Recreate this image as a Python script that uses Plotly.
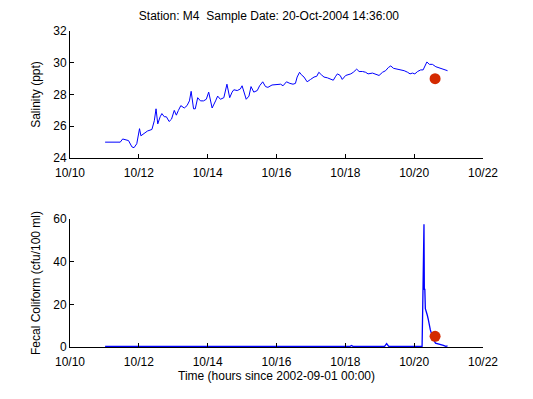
import pandas as pd
import plotly.graph_objects as go
from plotly.subplots import make_subplots

# Day-of-October (decimal) and salinity (ppt)
sal_day = [11.02, 11.46, 11.53, 11.65, 11.70, 11.80, 11.86, 11.94, 12.02, 12.06, 12.18, 12.25,
           12.38, 12.45, 12.50, 12.55, 12.62, 12.67, 12.74, 12.80, 12.88, 12.95, 13.03, 13.09,
           13.15, 13.22, 13.32, 13.40, 13.47, 13.52, 13.59, 13.64, 13.71, 13.79, 13.88, 13.96,
           14.03, 14.13, 14.23, 14.29, 14.37, 14.47, 14.56, 14.64, 14.71, 14.76, 14.86, 14.95,
           15.00, 15.05, 15.12, 15.20, 15.26, 15.34, 15.44, 15.51, 15.60, 15.68, 15.75, 15.87,
           16.02, 16.12, 16.19, 16.29, 16.39, 16.48, 16.55, 16.60, 16.67, 16.72, 16.80, 16.89,
           16.99, 17.09, 17.17, 17.23, 17.30, 17.38, 17.48, 17.57, 17.65, 17.72, 17.77, 17.85,
           17.91, 18.01, 18.16, 18.23, 18.33, 18.40, 18.50, 18.59, 18.66, 18.79, 18.88, 18.98,
           19.08, 19.17, 19.25, 19.32, 19.40, 19.51, 19.61, 19.71, 19.81, 19.88, 19.95, 20.02,
           20.10, 20.19, 20.26, 20.32, 20.37, 20.44, 20.53, 20.63, 20.78, 20.97]
sal_val = [25.0, 25.0, 25.2, 25.15, 25.1, 24.7, 24.65, 24.9, 25.85, 25.4, 25.6, 25.7,
           25.8, 26.35, 27.1, 26.15, 26.6, 26.8, 26.6, 26.6, 26.3, 26.45, 27.0, 26.7,
           27.0, 27.3, 27.15, 27.3, 27.6, 28.2, 27.1, 27.1, 27.8, 27.6, 27.6, 27.7,
           28.15, 27.15, 27.6, 27.9, 27.7, 27.8, 28.65, 27.8, 28.15, 28.3, 28.25, 28.35,
           28.55, 28.25, 27.7, 27.9, 28.5, 28.15, 28.25, 28.55, 28.8, 28.5, 28.45, 28.6,
           28.65, 28.65, 28.55, 28.8, 28.7, 28.65, 28.7, 29.1, 29.4, 29.25, 29.1, 28.8,
           28.95, 29.1, 29.15, 29.4, 29.25, 29.1, 29.05, 28.95, 28.9, 29.15, 29.3, 29.2,
           28.95, 29.2, 29.3, 29.4, 29.6, 29.45, 29.45, 29.4, 29.3, 29.35, 29.3, 29.2,
           29.4, 29.5, 29.7, 29.8, 29.65, 29.6, 29.55, 29.5, 29.4, 29.3, 29.35, 29.3,
           29.45, 29.55, 29.55, 29.8, 30.05, 29.9, 29.9, 29.75, 29.65, 29.5]

# Day-of-October (decimal) and fecal coliform (cfu/100 ml)
fc_day = [11.02, 12.0, 13.0, 14.0, 15.0, 16.0, 17.0, 17.08, 17.12, 17.16, 18.0, 18.14, 18.18,
          18.22, 19.0, 19.14, 19.20, 19.26, 19.6, 20.0, 20.20, 20.23, 20.25, 20.265, 20.275,
          20.285, 20.295, 20.31, 20.325, 20.35, 20.38, 20.41, 20.44, 20.47, 20.52, 20.56,
          20.62, 20.70, 20.78, 20.85, 20.92, 20.97]
fc_val = [0.3, 0.3, 0.3, 0.3, 0.3, 0.3, 0.3, 0.3, 0.6, 0.3, 0.3, 0.3, 0.7,
          0.3, 0.3, 0.3, 1.6, 0.3, 0.3, 0.3, 0.3, 0.3, 20.0, 49.0, 47.5,
          57.5, 27.0, 27.0, 18.0, 16.0, 15.0, 13.0, 10.0, 8.0, 5.5, 3.5,
          1.8, 1.5, 1.2, 0.8, 0.3, 0.5]

# Sample point
sample_day = [20.608]
sample_sal = [29.0]
sample_fc = [5.0]

title_text = "Station: M4  Sample Date: 20-Oct-2004 14:36:00"
x_ticks = ["2004-10-10", "2004-10-12", "2004-10-14", "2004-10-16", "2004-10-18", "2004-10-20", "2004-10-22"]
x_ticklabels = ["10/10", "10/12", "10/14", "10/16", "10/18", "10/20", "10/22"]
sal_ticks = [24, 26, 28, 30, 32]
fc_ticks = [0, 20, 40, 60]

base = pd.Timestamp("2004-10-01")
def to_dt(days):
    return [base + pd.Timedelta(days=d - 1) for d in days]

fig = make_subplots(rows=2, cols=1, vertical_spacing=0.0)
fig.add_trace(go.Scatter(x=to_dt(sal_day), y=sal_val, mode="lines",
                         line=dict(color="#0000ff", width=1)), row=1, col=1)
fig.add_trace(go.Scatter(x=to_dt(sample_day), y=sample_sal, mode="markers",
                         marker=dict(color="#d42a00", size=11)), row=1, col=1)
fig.add_trace(go.Scatter(x=to_dt(fc_day), y=fc_val, mode="lines",
                         line=dict(color="#0000ff", width=1.3)), row=2, col=1)
fig.add_trace(go.Scatter(x=to_dt(sample_day), y=sample_fc, mode="markers",
                         marker=dict(color="#d42a00", size=11)), row=2, col=1)

font = dict(family="Liberation Sans, Arial, sans-serif", size=12, color="black")
axcommon = dict(showline=True, linecolor="black", linewidth=1, ticks="inside", ticklen=4,
                tickcolor="black", showgrid=False, zeroline=False, mirror=False,
                tickfont=font, automargin=False)

fig.update_xaxes(type="date", range=["2004-10-10", "2004-10-22"], tickvals=x_ticks,
                 ticktext=x_ticklabels, ticklabelstandoff=4, **axcommon)
fig.update_yaxes(**axcommon)
fig.update_yaxes(range=[24, 32], tickvals=sal_ticks, domain=[0.598, 1.0],
                 title=dict(text="Salinity (ppt)", font=font, standoff=10), row=1, col=1)
fig.update_yaxes(range=[0, 60], tickvals=fc_ticks, domain=[0.0, 0.405],
                 title=dict(text="Fecal Coliform (cfu/100 ml)", font=font, standoff=10), row=2, col=1)
fig.update_xaxes(title=dict(text="Time (hours since 2002-09-01 00:00)", font=font, standoff=0),
                 row=2, col=1)

fig.update_layout(
    width=525, height=391,
    margin=dict(l=62, r=50, t=23, b=52),
    paper_bgcolor="white", plot_bgcolor="white",
    showlegend=False,
    font=font,
    title=dict(text=title_text, x=0.497, xanchor="center", y=0.98, yanchor="middle",
               font=font),
)

fig.write_html("out.html")
